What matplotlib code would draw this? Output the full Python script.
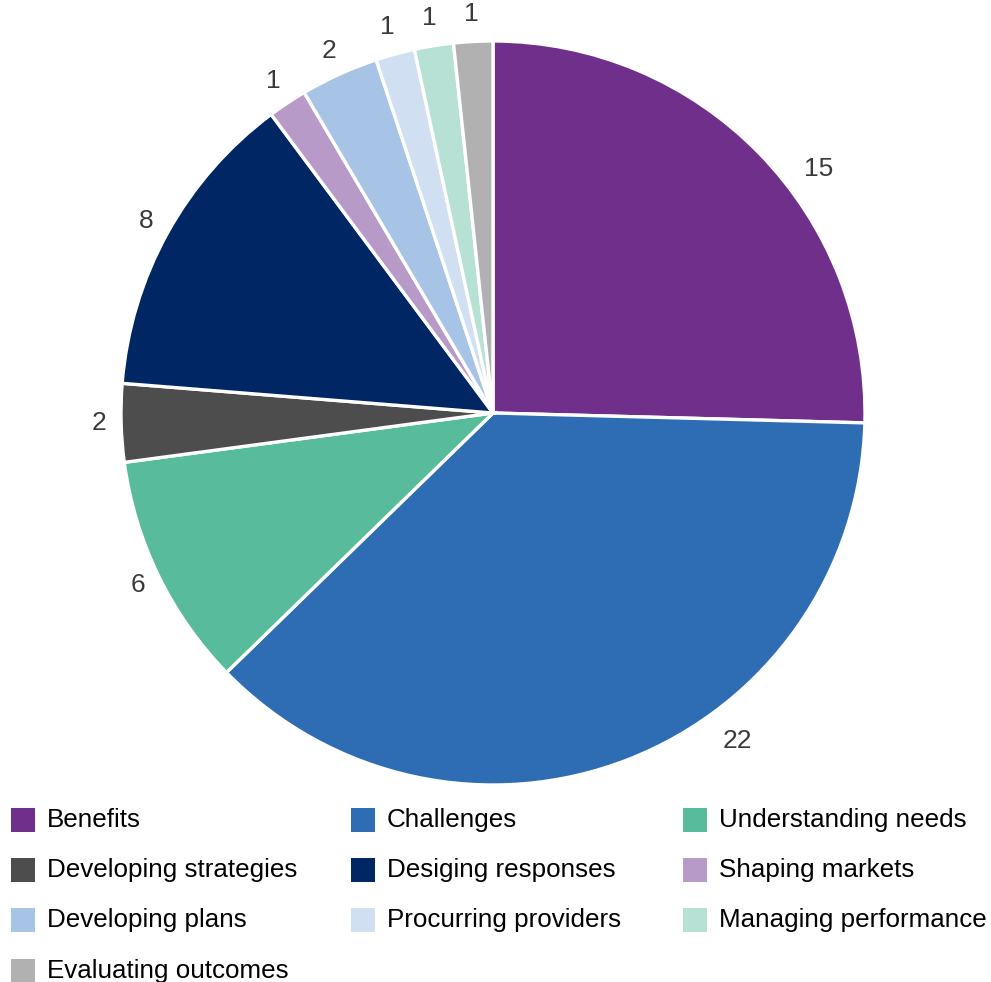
import numpy as np
import matplotlib.pyplot as plt
from matplotlib.patches import Rectangle

labels = ['Benefits', 'Challenges', 'Understanding needs',
          'Developing strategies', 'Desiging responses', 'Shaping markets',
          'Developing plans', 'Procurring providers', 'Managing performance',
          'Evaluating outcomes']
counts = [15, 22, 6, 2, 8, 1, 2, 1, 1, 1]
colors = ['#702F8A', '#2E6DB4', '#58BB9C', '#4D4D4D', '#002663',
          '#B89AC8', '#A7C4E6', '#D1DFF2', '#B7E1D4', '#B1B1B1']

# the two right-hand labels sit a bit off their wedge middles
label_shift = [-7.4, 15.4, 0, 0, 0, 0, 0, 0, 0, 0]   # degrees
label_dist = [1.095, 1.10, 1.06, 1.06, 1.065, 1.07, 1.07, 1.075, 1.075, 1.075]

plt.rcParams['font.family'] = ['Liberation Sans', 'DejaVu Sans']

W, H = 991, 982
fig = plt.figure(figsize=(W / 100, H / 100), dpi=100)

# pie area in pixels: centre (493, 413), radius 372
cx, cy, r = 493, 413, 372
ax = fig.add_axes([(cx - r) / W, (H - cy - r) / H, 2 * r / W, 2 * r / H])
wedges, _ = ax.pie(counts, colors=colors, startangle=90, counterclock=False,
                   wedgeprops=dict(edgecolor='white', linewidth=2.4))
ax.set_aspect('equal')
ax.set_xlim(-1, 1)
ax.set_ylim(-1, 1)
ax.axis('off')

for w, c, s, d in zip(wedges, counts, label_shift, label_dist):
    ang = np.deg2rad((w.theta1 + w.theta2) / 2 + s)
    ax.text(d * np.cos(ang), d * np.sin(ang), str(c), fontsize=19,
            color='#3a3a3a', ha='center', va='center', clip_on=False)

# legend, laid out by hand in pixel positions
col_x = [11, 351, 683]
row_y = [820, 870, 920, 971]
sq = 24
for i, (lab, col) in enumerate(zip(labels, colors)):
    x0 = col_x[i % 3]
    y0 = row_y[i // 3]
    fig.patches.append(Rectangle((x0 / W, (H - y0 - sq / 2) / H), sq / W, sq / H,
                                 transform=fig.transFigure, facecolor=col,
                                 edgecolor='none'))
    fig.text((x0 + 36) / W, (H - y0) / H, lab, fontsize=18.7, color='black',
             va='center', ha='left')

plt.savefig('out.png', dpi=100)
